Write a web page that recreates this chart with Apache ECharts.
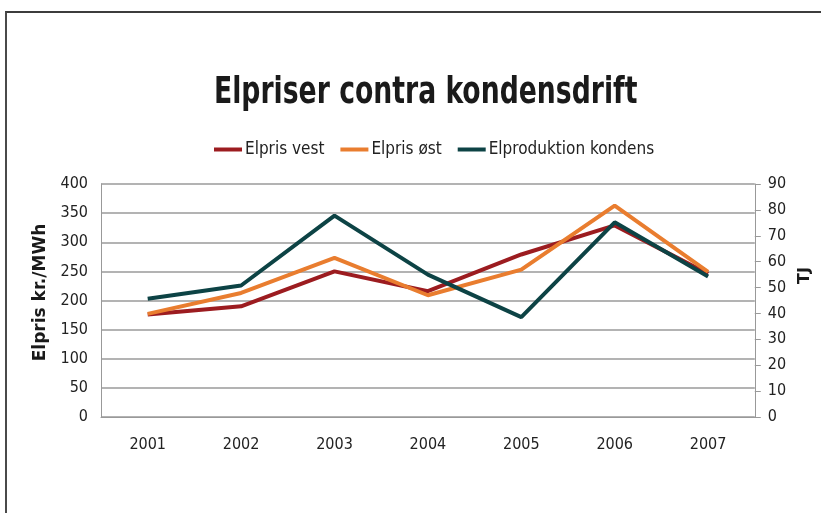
<!DOCTYPE html>
<html>
<head>
<meta charset="utf-8">
<script src="https://cdn.jsdelivr.net/npm/echarts@6/dist/echarts.min.js"></script>
<style>
  html, body { margin: 0; padding: 0; background: #fff; }
  #frame { position: absolute; left: 5px; top: 11px; width: 830px; height: 520px;
           border-top: 2px solid #3c3c3c; border-left: 2px solid #4a4a4a; }
  #chart { position: absolute; left: 0; top: 0; width: 821px; height: 513px; }
</style>
</head>
<body>
<div id="frame"></div>
<div id="chart"></div>
<script>
const years = ['2001', '2002', '2003', '2004', '2005', '2006', '2007'];
const elprisVest = [176, 190, 250, 216, 279, 329, 246];
const elprisOest = [177, 213, 273, 209, 253, 363, 249];
const elproduktionKondens = [45.7, 50.8, 77.8, 55.0, 38.6, 75.2, 54.3];
const leftTicks = { min: 0, max: 400, interval: 50 };
const rightTicks = { min: 0, max: 90, interval: 10 };

const narrow = "'Liberation Sans Narrow', 'DejaVu Sans Condensed', sans-serif";
const colors = ['#9c1c20', '#e97d2f', '#0d4345'];

const chart = echarts.init(document.getElementById('chart'), null, { renderer: 'canvas' });
chart.setOption({
  animation: false,
  backgroundColor: 'transparent',
  graphic: [{
    type: 'text',
    left: 214,
    top: 74,
    scaleX: 0.78,
    style: {
      text: 'Elpriser contra kondensdrift',
      fontFamily: narrow, fontWeight: 'bold', fontSize: 38, fill: '#1a1a1a'
    }
  }],
  legend: {
    top: 136,
    left: 209,
    itemWidth: 28,
    itemHeight: 4,
    itemGap: 16,
    icon: 'rect',
    textStyle: { fontFamily: narrow, fontSize: 17, color: '#222', padding: [0, 0, 0, -2] },
    data: ['Elpris vest', 'Elpris øst', 'Elproduktion kondens']
  },
  grid: { left: 101, right: 66, top: 184, bottom: 96, containLabel: false },
  xAxis: {
    type: 'category',
    data: years,
    boundaryGap: true,
    axisLine: { show: true, lineStyle: { color: '#999', width: 1 } },
    axisTick: { show: false },
    axisLabel: { margin: 20, fontFamily: narrow, fontSize: 16, color: '#222' }
  },
  yAxis: [
    {
      type: 'value',
      min: leftTicks.min, max: leftTicks.max, interval: leftTicks.interval,
      name: 'Elpris kr./MWh',
      nameLocation: 'middle',
      nameGap: 52,
      nameTextStyle: { fontFamily: "'DejaVu Sans', sans-serif", fontWeight: 'bold', fontSize: 17, color: '#1a1a1a', padding: [0, 0, 0, 16] },
      axisLine: { show: true, lineStyle: { color: '#999', width: 1 } },
      axisTick: { show: false },
      axisLabel: { margin: 13, fontFamily: narrow, fontSize: 16, color: '#222' },
      splitLine: { show: true, lineStyle: { color: '#9a9a9a', width: 1.5 } }
    },
    {
      type: 'value',
      position: 'right',
      min: rightTicks.min, max: rightTicks.max, interval: rightTicks.interval,
      name: 'TJ',
      nameLocation: 'middle',
      nameGap: 40,
      nameTextStyle: { fontFamily: "'DejaVu Sans', sans-serif", fontWeight: 'bold', fontSize: 16, color: '#1a1a1a', padding: [0, 0, 0, 50] },
      axisLine: { show: true, lineStyle: { color: '#999', width: 1 } },
      axisTick: { show: true, inside: false, length: 6, lineStyle: { color: '#999' } },
      axisLabel: { margin: 13, fontFamily: narrow, fontSize: 16, color: '#222' },
      splitLine: { show: false }
    }
  ],
  series: [
    { name: 'Elpris vest', type: 'line', yAxisIndex: 0, data: elprisVest, showSymbol: false,
      lineStyle: { width: 4, color: colors[0] }, itemStyle: { color: colors[0] } },
    { name: 'Elpris øst', type: 'line', yAxisIndex: 0, data: elprisOest, showSymbol: false,
      lineStyle: { width: 4, color: colors[1] }, itemStyle: { color: colors[1] } },
    { name: 'Elproduktion kondens', type: 'line', yAxisIndex: 1, data: elproduktionKondens, showSymbol: false,
      lineStyle: { width: 4, color: colors[2] }, itemStyle: { color: colors[2] } }
  ]
});
</script>
</body>
</html>
